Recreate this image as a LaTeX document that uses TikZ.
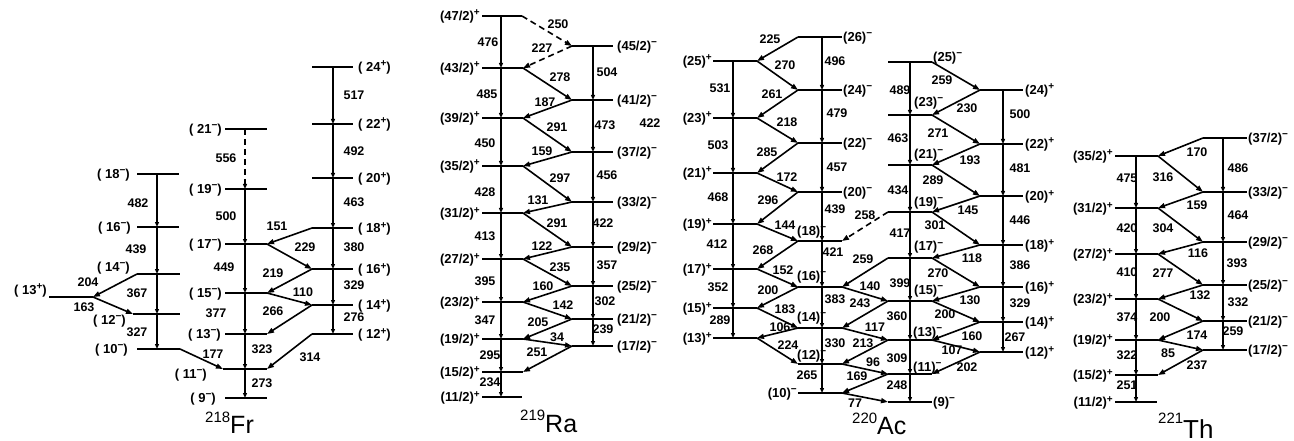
\documentclass[tikz,border=0pt]{standalone}
\usepackage{fontspec}
\setmainfont{Liberation Sans}
\usetikzlibrary{arrows.meta}
\newcount\glc
\newcount\lbc
\newcommand\lev[5]{\coordinate (#1l) at (#2,#5);\coordinate (#1r) at (#3,#5);\coordinate (#1v) at (#4,#5);\draw[lvl] (#1l) -- (#1r);}
\newcommand\gam[3]{\global\advance\glc by 1\relax\node[tlab] (g\the\glc) at (#1,#2) {#3};}
\newcommand\lbl[4]{\global\advance\lbc by 1\relax\node[lvlab,anchor=#1] (lb\the\lbc) at (#2,#3) {#4};}
\newcommand\lL[3][2]{\global\advance\lbc by 1\relax\node[lvlab,anchor=base east] (lb\the\lbc) at ([xshift=-#1pt,yshift=-4.5pt]#2l) {#3};}
\newcommand\lR[3][2]{\global\advance\lbc by 1\relax\node[lvlab,anchor=base west] (lb\the\lbc) at ([xshift=#1pt,yshift=-4.5pt]#2r) {#3};}
\newcommand\splus{\raisebox{4.5pt}{\fontsize{10}{10}\selectfont +}}
\newcommand\sminus{\raisebox{5pt}{\fontsize{10}{10}\selectfont \char"2212}}
\tikzset{
 lvl/.style={line width=1.9pt},
 vt/.style={line width=1.2pt,-{Triangle[length=5pt,width=4pt]}},
 ct/.style={line width=1.6pt,-{Triangle[length=7pt,width=5pt]}},
 dsh/.style={dash pattern=on 6pt off 4pt},
 tlab/.style={inner sep=0pt,font=\fontsize{12.5}{13}\selectfont\bfseries},
 lvlab/.style={inner sep=0pt,font=\fontsize{13}{14}\selectfont\bfseries},
 nuc/.style={inner sep=0pt,anchor=base west},
}
\begin{document}
\begin{tikzpicture}[x=1pt,y=-1pt]
\fill[white] (0,0) rectangle (1294,441);
\useasboundingbox (0,0) rectangle (1294,441);
% ---------------- 218Fr ----------------
\lev{F24}{312}{353}{333}{67}
\lev{F22}{312}{353}{333}{124}
\lev{F20}{312}{353}{333}{178}
\lev{F18p}{312}{353}{333}{228}
\lev{F16p}{312}{353}{333}{269}
\lev{F14p}{312}{353}{333}{305}
\lev{F12p}{312}{353}{333}{334}
\lev{F21}{225}{267}{245}{129}
\lev{F19}{225}{267}{245}{189}
\lev{F17}{225}{267}{245}{244}
\lev{F15}{225}{267}{245}{293}
\lev{F13}{225}{267}{245}{334}
\lev{F11}{223}{267}{245}{369}
\lev{F9}{225}{267}{245}{398}
\lev{F18m}{137}{179}{157}{174}
\lev{F16m}{137}{179}{157}{227}
\lev{F14m}{137}{180}{157}{274}
\lev{F12m}{133}{180}{157}{314}
\lev{F10m}{137}{180}{157}{349}
\lev{F13p}{49}{93}{70}{297}
\foreach \a/\b in {F24v/F22v,F22v/F20v,F20v/F18pv,F18pv/F16pv,F16pv/F14pv,F14pv/F12pv,
  F19v/F17v,F17v/F15v,F15v/F13v,F13v/F11v,F11v/F9v,
  F18mv/F16mv,F16mv/F14mv,F14mv/F12mv,F12mv/F10mv}
  \draw[vt] (\a) -- (\b);
\draw[vt,dsh] (F21v) -- (F19v);
\foreach \a/\b in {F14ml/F13pr,F13pr/F12ml,F18pl/F17r,F17r/F16pl,F16pl/F15r,F15r/F14pl,F14pl/F13r,F10mr/F11l,F12pl/F11r}
  \draw[ct] (\a) -- (\b);
\lR[5]{F24}{( 24\splus)}
\lR[5]{F22}{( 22\splus)}
\lR[5]{F20}{( 20\splus)}
\lR[5]{F18p}{( 18\splus)}
\lR[5]{F16p}{( 16\splus)}
\lR[5]{F14p}{( 14\splus)}
\lR[5]{F12p}{( 12\splus)}
\lL[3]{F21}{( 21\sminus)}
\lL[3]{F19}{( 19\sminus)}
\lL[3]{F17}{( 17\sminus)}
\lL[3]{F15}{( 15\sminus)}
\lL[4]{F13}{( 13\sminus)}
\lL[9]{F9}{( 9\sminus)}
\lL[7]{F18m}{( 18\sminus)}
\lL[6]{F16m}{( 16\sminus)}
\lL[9]{F10m}{( 10\sminus)}
\lbl{base east}{130}{271}{( 14\sminus)}
\lbl{base east}{126}{324}{( 12\sminus)}
\lbl{base east}{207}{378}{( 11\sminus)}
\lbl{base east}{47}{294}{( 13\splus)}
\gam{138}{203}{482}\gam{136}{249}{439}\gam{137}{293}{367}\gam{137}{332}{327}
\gam{88}{282}{204}\gam{84}{307}{163}
\gam{226}{158}{556}\gam{226}{216}{500}\gam{224}{267}{449}\gam{216}{313}{377}
\gam{262}{349}{323}\gam{262}{383}{273}
\gam{354}{95}{517}\gam{354}{151}{492}\gam{354}{202}{463}\gam{354}{247}{380}
\gam{354}{285}{329}\gam{354}{317}{276}
\gam{277}{226}{151}\gam{305}{247}{229}\gam{273}{273}{219}\gam{303}{292}{110}
\gam{273}{311}{266}\gam{213}{354}{177}\gam{310}{357}{314}
\node[nuc] (nFr) at (205,433) {\fontsize{15}{15}\selectfont\raisebox{11pt}{218}\fontsize{25}{25}\selectfont Fr};
% ---------------- 219Ra ----------------
\lev{R47}{482}{522}{501}{16}
\lev{R43}{482}{523}{501}{68}
\lev{R39}{482}{523}{501}{118}
\lev{R35}{482}{523}{501}{166}
\lev{R31}{482}{523}{501}{213}
\lev{R27}{482}{523}{501}{259}
\lev{R23}{482}{523}{501}{302}
\lev{R19}{482}{523}{501}{339}
\lev{R15}{482}{523}{501}{372}
\lev{R11}{482}{522}{501}{397}
\lev{R45}{572}{613}{593}{46}
\lev{R41}{572}{613}{593}{100}
\lev{R37}{572}{613}{593}{152}
\lev{R33}{572}{613}{593}{202}
\lev{R29}{572}{613}{593}{247}
\lev{R25}{572}{613}{593}{286}
\lev{R21}{572}{613}{593}{319}
\lev{R17}{572}{613}{593}{346}
\foreach \a/\b in {R47v/R43v,R43v/R39v,R39v/R35v,R35v/R31v,R31v/R27v,R27v/R23v,R23v/R19v,R19v/R15v,R15v/R11v,
  R45v/R41v,R41v/R37v,R37v/R33v,R33v/R29v,R29v/R25v,R25v/R21v,R21v/R17v}
  \draw[vt] (\a) -- (\b);
\draw[ct,dsh] (R47r) -- (R45l);
\draw[ct,dsh] (R45l) -- (R43r);
\foreach \a/\b in {R43r/R41l,R41l/R39r,R39r/R37l,R37l/R35r,R35r/R33l,R33l/R31r,R31r/R29l,R29l/R27r,
  R27r/R25l,R25l/R23r,R23r/R21l,R21l/R19r,R19r/R17l,R17l/R15r}
  \draw[ct] (\a) -- (\b);
\lL{R47}{(47/2)\splus}\lL{R43}{(43/2)\splus}\lL{R39}{(39/2)\splus}\lL{R35}{(35/2)\splus}
\lL{R31}{(31/2)\splus}\lL{R27}{(27/2)\splus}\lL{R23}{(23/2)\splus}\lL{R19}{(19/2)\splus}
\lL{R15}{(15/2)\splus}\lL{R11}{(11/2)\splus}
\lR[4]{R45}{(45/2)\sminus}\lR[4]{R41}{(41/2)\sminus}\lR[4]{R37}{(37/2)\sminus}\lR[4]{R33}{(33/2)\sminus}
\lR[4]{R29}{(29/2)\sminus}\lR[4]{R25}{(25/2)\sminus}\lR[4]{R21}{(21/2)\sminus}\lR[4]{R17}{(17/2)\sminus}
\gam{558}{24}{250}\gam{542}{48}{227}\gam{488}{42}{476}\gam{607}{72}{504}
\gam{560}{77}{278}\gam{487}{94}{485}\gam{545}{102}{187}\gam{557}{127}{291}
\gam{605}{125}{473}\gam{650}{123}{422}\gam{485}{143}{450}\gam{542}{151}{159}
\gam{560}{178}{297}\gam{607}{175}{456}\gam{485}{192}{428}\gam{538}{200}{131}
\gam{557}{223}{291}\gam{603}{223}{422}\gam{485}{236}{413}\gam{542}{246}{122}
\gam{560}{267}{235}\gam{607}{265}{357}\gam{485}{281}{395}\gam{543}{286}{160}
\gam{563}{305}{142}\gam{605}{301}{302}\gam{485}{320}{347}\gam{538}{322}{205}
\gam{603}{329}{239}\gam{557}{337}{34}\gam{537}{352}{251}\gam{490}{355}{295}
\gam{490}{382}{234}
\node[nuc] (nRa) at (520,432) {\fontsize{15}{15}\selectfont\raisebox{12pt}{219}\fontsize{25}{25}\selectfont Ra};
% ---------------- 220Ac ----------------
\lev{A25p}{713}{757}{733}{61}
\lev{A23p}{713}{757}{733}{118}
\lev{A21p}{713}{757}{733}{173}
\lev{A19p}{713}{757}{733}{224}
\lev{A17p}{713}{757}{733}{269}
\lev{A15p}{713}{757}{733}{308}
\lev{A13p}{713}{757}{733}{338}
\lev{A26m}{798}{842}{822}{37}
\lev{A24m}{798}{842}{822}{90}
\lev{A22m}{798}{842}{822}{143}
\lev{A20m}{798}{842}{822}{192}
\lev{A18m}{798}{842}{822}{241}
\lev{A16m}{798}{842}{822}{287}
\lev{A14m}{798}{842}{822}{328}
\lev{A12m}{798}{842}{822}{364}
\lev{A10m}{798}{842}{822}{393}
\lev{A25m}{888}{932}{910}{62}
\lev{A23m}{888}{932}{910}{115}
\lev{A21m}{888}{932}{910}{165}
\lev{A19m}{888}{932}{910}{212}
\lev{A17m}{888}{932}{910}{258}
\lev{A15m}{888}{932}{910}{301}
\lev{A13m}{888}{932}{910}{340}
\lev{A11m}{888}{932}{910}{374}
\lev{A9m}{888}{932}{910}{402}
\lev{A24p}{980}{1023}{1003}{90}
\lev{A22p}{980}{1023}{1003}{144}
\lev{A20p}{980}{1023}{1003}{196}
\lev{A18p}{980}{1023}{1003}{245}
\lev{A16p}{980}{1023}{1003}{287}
\lev{A14p}{980}{1023}{1003}{322}
\lev{A12p}{980}{1023}{1003}{352}
\foreach \a/\b in {A25pv/A23pv,A23pv/A21pv,A21pv/A19pv,A19pv/A17pv,A17pv/A15pv,A15pv/A13pv,
  A26mv/A24mv,A24mv/A22mv,A22mv/A20mv,A20mv/A18mv,A18mv/A16mv,A16mv/A14mv,A14mv/A12mv,A12mv/A10mv,
  A25mv/A23mv,A23mv/A21mv,A21mv/A19mv,A19mv/A17mv,A17mv/A15mv,A15mv/A13mv,A13mv/A11mv,A11mv/A9mv,
  A24pv/A22pv,A22pv/A20pv,A20pv/A18pv,A18pv/A16pv,A16pv/A14pv,A14pv/A12pv}
  \draw[vt] (\a) -- (\b);
\foreach \a/\b in {A26ml/A25pr,A25pr/A24ml,A24ml/A23pr,A23pr/A22ml,A22ml/A21pr,A21pr/A20ml,A20ml/A19pr,
  A19pr/A18ml,A18ml/A17pr,A17pr/A16ml,A16ml/A15pr,A15pr/A14ml,A14ml/A13pr,A13pr/A12ml,
  A17ml/A16mr,A16mr/A15ml,A15ml/A14mr,A14mr/A13ml,A13ml/A12mr,A12mr/A11ml,A11ml/A10mr,A10mr/A9ml,
  A25mr/A24pl,A24pl/A23mr,A23mr/A22pl,A22pl/A21mr,A21mr/A20pl,A20pl/A19mr,A19mr/A18pl,A18pl/A17mr,
  A17mr/A16pl,A16pl/A15mr,A15mr/A14pl,A14pl/A13mr,A13mr/A12pl,A12pl/A11mr}
  \draw[ct] (\a) -- (\b);
\draw[ct,dsh] (A19ml) -- (A18mr);
\lL[1]{A25p}{(25)\splus}\lL[1]{A23p}{(23)\splus}\lL[1]{A21p}{(21)\splus}\lL[1]{A19p}{(19)\splus}
\lL[1]{A17p}{(17)\splus}\lL[1]{A15p}{(15)\splus}\lL[1]{A13p}{(13)\splus}
\lR[1]{A26m}{(26)\sminus}\lR[1]{A24m}{(24)\sminus}\lR[1]{A22m}{(22)\sminus}\lR[1]{A20m}{(20)\sminus}
\lbl{base west}{797}{235}{(18)\sminus}
\lbl{base west}{797}{280}{(16)\sminus}
\lbl{base west}{797}{321}{(14)\sminus}
\lbl{base west}{797}{359}{(12)\sminus}
\lL[1]{A10m}{(10)\sminus}
\lbl{base west}{933}{62}{(25)\sminus}
\lbl{base west}{914}{107}{(23)\sminus}
\lbl{base west}{914}{159}{(21)\sminus}
\lbl{base west}{914}{207}{(19)\sminus}
\lbl{base west}{914}{251}{(17)\sminus}
\lbl{base west}{914}{294}{(15)\sminus}
\lbl{base west}{913}{336}{(13)\sminus}
\lbl{base west}{913}{371}{(11)\sminus}
\lR[1]{A9m}{(9)\sminus}
\lR{A24p}{(24)\splus}\lR{A22p}{(22)\splus}\lR{A20p}{(20)\splus}\lR{A18p}{(18)\splus}
\lR{A16p}{(16)\splus}\lR{A14p}{(14)\splus}\lR{A12p}{(12)\splus}
\gam{770}{39}{225}\gam{785}{65}{270}\gam{720}{88}{531}\gam{835}{61}{496}
\gam{772}{94}{261}\gam{837}{113}{479}\gam{787}{122}{218}\gam{718}{145}{503}
\gam{767}{152}{285}\gam{837}{167}{457}\gam{787}{177}{172}\gam{718}{197}{468}
\gam{768}{200}{296}\gam{835}{209}{439}\gam{785}{225}{144}\gam{717}{244}{412}
\gam{763}{250}{268}\gam{833}{252}{421}\gam{783}{270}{152}\gam{718}{287}{352}
\gam{768}{290}{200}\gam{835}{299}{383}\gam{785}{309}{183}\gam{720}{320}{289}
\gam{780}{327}{106}\gam{788}{345}{224}\gam{835}{343}{330}\gam{807}{375}{265}
\gam{855}{403}{77}
\gam{865}{215}{258}\gam{863}{259}{259}\gam{870}{286}{140}\gam{860}{303}{243}
\gam{875}{327}{117}\gam{863}{343}{213}\gam{873}{362}{96}\gam{857}{376}{169}
\gam{900}{90}{489}\gam{898}{138}{463}\gam{898}{190}{434}\gam{900}{233}{417}
\gam{900}{283}{399}\gam{897}{316}{360}\gam{897}{358}{309}\gam{897}{385}{248}
\gam{942}{80}{259}\gam{967}{108}{230}\gam{938}{133}{271}\gam{970}{160}{193}
\gam{933}{180}{289}\gam{968}{210}{145}\gam{935}{225}{301}\gam{972}{258}{118}
\gam{938}{273}{270}\gam{970}{300}{130}\gam{945}{314}{200}\gam{972}{336}{160}
\gam{952}{350}{107}\gam{967}{367}{202}
\gam{1020}{114}{500}\gam{1020}{168}{481}\gam{1020}{220}{446}\gam{1020}{265}{386}
\gam{1020}{303}{329}\gam{1015}{337}{267}
\node[nuc] (nAc) at (852,434) {\fontsize{15}{15}\selectfont\raisebox{11pt}{220}\fontsize{25}{25}\selectfont Ac};
% ---------------- 221Th ----------------
\lev{T35}{1115}{1158}{1136}{156}
\lev{T31}{1115}{1158}{1136}{208}
\lev{T27}{1115}{1158}{1136}{254}
\lev{T23}{1115}{1158}{1136}{299}
\lev{T19}{1115}{1158}{1136}{340}
\lev{T15}{1115}{1158}{1136}{375}
\lev{T11}{1115}{1157}{1136}{402}
\lev{T37}{1203}{1247}{1223}{138}
\lev{T33}{1203}{1247}{1223}{192}
\lev{T29}{1203}{1247}{1223}{242}
\lev{T25}{1203}{1247}{1223}{285}
\lev{T21}{1203}{1247}{1223}{321}
\lev{T17}{1203}{1247}{1223}{350}
\foreach \a/\b in {T35v/T31v,T31v/T27v,T27v/T23v,T23v/T19v,T19v/T15v,T15v/T11v,
  T37v/T33v,T33v/T29v,T29v/T25v,T25v/T21v,T21v/T17v}
  \draw[vt] (\a) -- (\b);
\foreach \a/\b in {T37l/T35r,T35r/T33l,T33l/T31r,T31r/T29l,T29l/T27r,T27r/T25l,T25l/T23r,T23r/T21l,
  T21l/T19r,T19r/T17l,T17l/T15r}
  \draw[ct] (\a) -- (\b);
\lL{T35}{(35/2)\splus}\lL{T31}{(31/2)\splus}\lL{T27}{(27/2)\splus}\lL{T23}{(23/2)\splus}
\lL{T19}{(19/2)\splus}\lL{T15}{(15/2)\splus}\lL{T11}{(11/2)\splus}
\lR[1]{T37}{(37/2)\sminus}\lR[1]{T33}{(33/2)\sminus}\lR[1]{T29}{(29/2)\sminus}
\lR[1]{T25}{(25/2)\sminus}\lR[1]{T21}{(21/2)\sminus}\lR[1]{T17}{(17/2)\sminus}
\gam{1197}{152}{170}\gam{1127}{178}{475}\gam{1163}{177}{316}\gam{1238}{168}{486}
\gam{1197}{205}{159}\gam{1238}{215}{464}\gam{1127}{228}{420}\gam{1163}{228}{304}
\gam{1198}{253}{116}\gam{1237}{263}{393}\gam{1127}{272}{410}\gam{1163}{273}{277}
\gam{1200}{295}{132}\gam{1238}{302}{332}\gam{1127}{317}{374}\gam{1160}{317}{200}
\gam{1197}{335}{174}\gam{1233}{331}{259}\gam{1168}{353}{85}\gam{1127}{355}{322}
\gam{1197}{365}{237}\gam{1127}{385}{251}
\node[nuc] (nTh) at (1158,438) {\fontsize{15}{15}\selectfont\raisebox{15pt}{221}\fontsize{26}{26}\selectfont Th};
\end{tikzpicture}
\end{document}
